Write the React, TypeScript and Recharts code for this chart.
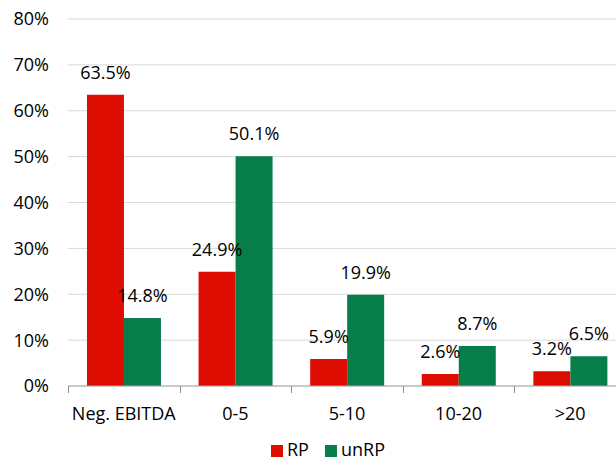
import React from 'react';
import {
  BarChart,
  Bar,
  XAxis,
  YAxis,
  CartesianGrid,
  Legend,
  LabelList
} from 'recharts';

const categories = ['Neg. EBITDA', '0-5', '5-10', '10-20', '>20'];
const rpValues = [63.5, 24.9, 5.9, 2.6, 3.2];
const unrpValues = [14.8, 50.1, 19.9, 8.7, 6.5];
const yTicks = [0, 10, 20, 30, 40, 50, 60, 70, 80];

const seriesList = [
  { key: 'rp', name: 'RP', color: '#de0d02' },
  { key: 'unrp', name: 'unRP', color: '#077d4a' }
];

const CHART_W = 660;
const CHART_H = 458;
const MARGIN = { top: 19, right: 34, left: 0, bottom: 0 };
const Y_AXIS_W = 68;
const PLOT_W = CHART_W - MARGIN.left - MARGIN.right - Y_AXIS_W;
const BAND = PLOT_W / categories.length;

const FONT = "'Open Sans', 'Liberation Sans', sans-serif";

const data = categories.map((name, i) => ({
  name,
  rp: rpValues[i],
  unrp: unrpValues[i]
}));

// ticks in the reference sit between categories, not under them
const CategoryTick = ({ x, y, payload }: any) => {
  const bx = Math.round(x - BAND / 2) + 0.5;
  return (
    <g>
      <line x1={bx} x2={bx} y1={y} y2={y + 7} stroke="#8c8c8c" strokeWidth={1} />
      <text x={x} y={y + 34} textAnchor="middle" fontSize={18} fontFamily={FONT} fill="#000">
        {payload.value}
      </text>
    </g>
  );
};

const fmtPct = (v: number) => `${v.toFixed(1)}%`;

export default function App() {
  return (
    <div style={{ position: 'absolute', left: 0, top: 0, width: 616, height: 458, overflow: 'hidden', background: '#fff' }}>
      <BarChart
        width={CHART_W}
        height={CHART_H}
        data={data}
        margin={MARGIN}
        barCategoryGap="17%"
        barGap={0}
      >
        <CartesianGrid vertical={false} stroke="#d9d9d9" strokeWidth={1} />
        <XAxis
          dataKey="name"
          height={50}
          tickLine={false}
          tickSize={0}
          tickMargin={0}
          axisLine={{ stroke: '#a6a6a6' }}
          tick={<CategoryTick />}
          interval={0}
        />
        <YAxis
          width={Y_AXIS_W}
          domain={[0, 80]}
          ticks={yTicks}
          axisLine={false}
          tickLine={false}
          tickSize={0}
          tickMargin={19}
          tickFormatter={(v: number) => `${v}%`}
          tick={{ fontSize: 18, fontFamily: FONT, fill: '#000' }}
        />
        <Legend
          verticalAlign="bottom"
          height={22}
          iconType="square"
          iconSize={12}
          wrapperStyle={{ fontFamily: FONT, fontSize: 18, left: 271, top: 440, width: 'auto', lineHeight: '18px' }}
          formatter={(value: string) => (
            <span style={{ color: '#000', marginRight: 6 }}>{value}</span>
          )}
        />
        {seriesList.map(s => (
          <Bar key={s.key} dataKey={s.key} name={s.name} fill={s.color} isAnimationActive={false}>
            <LabelList
              dataKey={s.key}
              position="top"
              offset={16}
              formatter={fmtPct}
              style={{ fontSize: 18, fontFamily: FONT, fill: '#000' }}
            />
          </Bar>
        ))}
      </BarChart>
    </div>
  );
}
